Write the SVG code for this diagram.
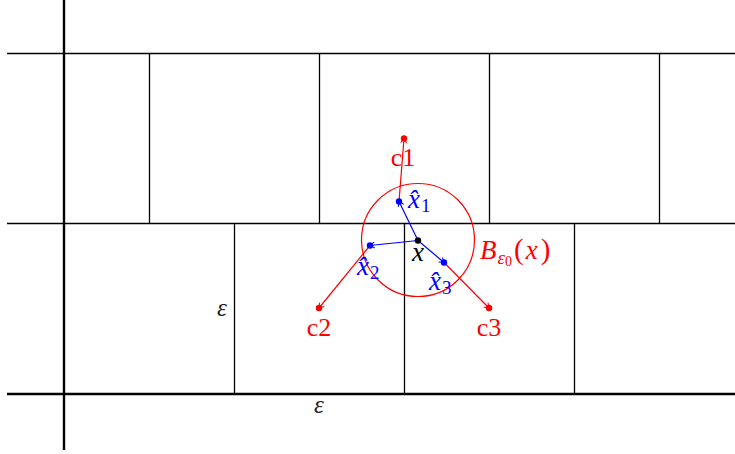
<svg xmlns="http://www.w3.org/2000/svg" width="735" height="454" viewBox="0 0 735 454">
<style>
.grid{stroke:#000;stroke-width:1.3;fill:none}
.axis{stroke:#000;stroke-width:2.4;fill:none}
.blue{stroke:#0000ff;stroke-width:1.2;fill:none}
.red{stroke:#ff0000;stroke-width:1.2;fill:none}
.t{font-family:"Liberation Serif","DejaVu Serif",serif}
.it{font-style:italic}
</style>
<defs>
<marker id="ab" viewBox="-6 -4 7 8" markerWidth="7" markerHeight="8" refX="0" refY="0" orient="auto" markerUnits="userSpaceOnUse">
<path d="M-4.5,-3 Q-1,-0.6 0,0 Q-1,0.6 -4.5,3" stroke="#0000ff" stroke-width="1" fill="none"/>
</marker>
<marker id="ar" viewBox="-6 -4 7 8" markerWidth="7" markerHeight="8" refX="0" refY="0" orient="auto" markerUnits="userSpaceOnUse">
<path d="M-4.5,-3 Q-1,-0.6 0,0 Q-1,0.6 -4.5,3" stroke="#ff0000" stroke-width="1" fill="none"/>
</marker>
</defs>
<rect width="735" height="454" fill="#fff"/>
<g id="grid">
<line class="grid" x1="7" y1="53.5" x2="735" y2="53.5"/>
<line class="grid" x1="7" y1="223.5" x2="735" y2="223.5"/>
<line class="grid" x1="149.5" y1="53.5" x2="149.5" y2="223.5"/>
<line class="grid" x1="319.5" y1="53.5" x2="319.5" y2="223.5"/>
<line class="grid" x1="489.5" y1="53.5" x2="489.5" y2="223.5"/>
<line class="grid" x1="659.5" y1="53.5" x2="659.5" y2="223.5"/>
<line class="grid" x1="234.5" y1="223.5" x2="234.5" y2="394"/>
<line class="grid" x1="404.5" y1="223.5" x2="404.5" y2="394"/>
<line class="grid" x1="574.5" y1="223.5" x2="574.5" y2="394"/>
<line class="axis" x1="7" y1="394" x2="735" y2="394"/>
<line class="axis" x1="64" y1="0" x2="64" y2="450"/>
<text class="t it" x="222" y="316" font-size="25" fill="#222" text-anchor="middle">ε</text>
<text class="t it" x="319" y="413" font-size="25" fill="#222" text-anchor="middle">ε</text>
</g>
<g id="ball">
<circle cx="418" cy="240" r="56.5" fill="none" stroke="#ff0000" stroke-width="1.2"/>
<text class="t it" x="480" y="259" font-size="27" fill="#ff0000">B<tspan font-size="19" dy="5" dx="1">ε</tspan><tspan font-size="14" dy="2" font-style="normal">0</tspan><tspan dy="-7" dx="2" font-size="29" font-style="normal">(</tspan><tspan dx="2">x</tspan><tspan dx="3" font-size="29" font-style="normal">)</tspan></text>
</g>
<g id="connectors">
<line class="blue" x1="418" y1="240.5" x2="399" y2="201.5" marker-end="url(#ab)"/>
<line class="blue" x1="418" y1="240.5" x2="370" y2="245.5" marker-end="url(#ab)"/>
<line class="blue" x1="418" y1="240.5" x2="444" y2="262.5" marker-end="url(#ab)"/>
<line class="red" x1="399" y1="201.5" x2="404" y2="138.5" marker-end="url(#ar)"/>
<line class="red" x1="370" y1="245.5" x2="319" y2="308" marker-end="url(#ar)"/>
<line class="red" x1="444" y1="262.5" x2="489" y2="308" marker-end="url(#ar)"/>
</g>
<g id="x">
<circle cx="418" cy="240.5" r="3.2" fill="#000"/>
<text class="t it" x="418" y="261" font-size="27" text-anchor="middle">x</text>
</g>
<g id="xhat1">
<circle cx="399" cy="201.5" r="3.2" fill="#0000ff"/>
<text class="t it" x="408" y="208" font-size="27" fill="#0000ff">x̂<tspan font-size="19" dy="4" dx="1" font-style="normal">1</tspan></text>
</g>
<g id="xhat2">
<circle cx="370" cy="245.5" r="3.2" fill="#0000ff"/>
<text class="t it" x="357" y="275" font-size="27" fill="#0000ff">x̂<tspan font-size="19" dy="4" dx="1" font-style="normal">2</tspan></text>
</g>
<g id="xhat3">
<circle cx="444" cy="262.5" r="3.2" fill="#0000ff"/>
<text class="t it" x="429" y="290" font-size="27" fill="#0000ff">x̂<tspan font-size="19" dy="4" dx="1" font-style="normal">3</tspan></text>
</g>
<g id="c1">
<circle cx="404" cy="138.5" r="3.2" fill="#ff0000"/>
<text class="t" x="403" y="166" font-size="26" fill="#ff0000" text-anchor="middle">c1</text>
</g>
<g id="c2">
<circle cx="319" cy="308" r="3.2" fill="#ff0000"/>
<text class="t" x="319" y="336" font-size="26" fill="#ff0000" text-anchor="middle">c2</text>
</g>
<g id="c3">
<circle cx="489" cy="308" r="3.2" fill="#ff0000"/>
<text class="t" x="489" y="336" font-size="26" fill="#ff0000" text-anchor="middle">c3</text>
</g>
</svg>
